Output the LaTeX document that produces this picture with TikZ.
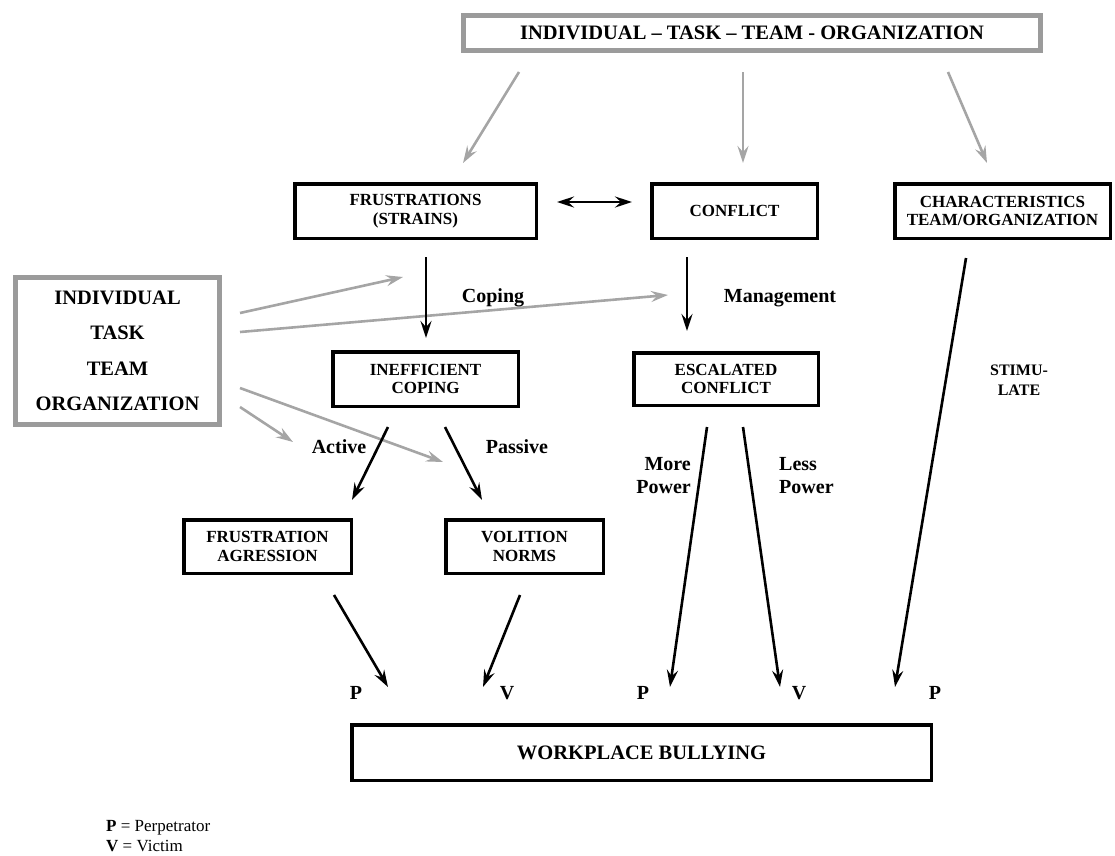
\documentclass[tikz,border=0pt]{standalone}
\usepackage{fontspec}
\setmainfont{Liberation Serif}
\usetikzlibrary{arrows.meta}
\definecolor{garrowc}{RGB}{165,165,165}
\definecolor{gboxc}{RGB}{155,155,155}
\begin{document}
\begin{tikzpicture}[x=1pt,y=-1pt,
  tipb/.tip={Stealth[length=17pt,width=11pt,inset=6pt]},
  bbox/.style={draw=black, line width=3.5pt, fill=white, inner sep=0pt, align=center,
    font=\fontsize{17}{18.5}\selectfont\bfseries},
  gbox/.style={draw=gboxc, line width=5pt, fill=white, inner sep=0pt, align=center,
    font=\fontsize{20.5}{24}\selectfont\bfseries},
  barrow/.style={draw=black, line width=2.6pt, -tipb},
  garrow/.style={draw=garrowc, line width=2.6pt, -tipb},
  lab/.style={inner sep=0pt, font=\fontsize{20}{23}\selectfont\bfseries},
  small/.style={inner sep=0pt, font=\fontsize{16}{20}\selectfont\bfseries, align=center},
  legend/.style={inner sep=0pt, anchor=west, font=\fontsize{17}{19}\selectfont}
]
\useasboundingbox (0,0) rectangle (1115,855);

% boxes
\node[gbox, minimum width=577pt, minimum height=35pt] (top) at (752,33) {INDIVIDUAL -- TASK -- TEAM - ORGANIZATION};
\node[bbox, minimum width=241.5pt, minimum height=54.5pt] (frus) at (415.5,211) {FRUSTRATIONS\\(STRAINS)};
\node[bbox, minimum width=165.5pt, minimum height=54.5pt] (conf) at (734.5,211) {CONFLICT};
\node[bbox, minimum width=215.5pt, minimum height=54.5pt] (char) at (1002.5,211) {CHARACTERISTICS\\TEAM/ORGANIZATION};
\node[gbox, minimum width=204pt, minimum height=147pt, font=\fontsize{20.5}{35.5}\selectfont\bfseries] (left) at (117.5,351) {INDIVIDUAL\\TASK\\TEAM\\ORGANIZATION};
\node[bbox, minimum width=185.5pt, minimum height=54.5pt] (ineff) at (425.5,379) {INEFFICIENT\\COPING};
\node[bbox, minimum width=184.5pt, minimum height=52.5pt] (esc) at (726,379) {ESCALATED\\CONFLICT};
\node[bbox, minimum width=167.5pt, minimum height=53.5pt] (fa) at (267.5,546.5) {FRUSTRATION\\AGRESSION};
\node[bbox, minimum width=157.5pt, minimum height=53.5pt] (vn) at (524.5,546.5) {VOLITION\\NORMS};
\node[bbox, minimum width=579.5pt, minimum height=55.5pt, font=\fontsize{20.5}{24}\selectfont\bfseries] (wb) at (641.5,752.5) {WORKPLACE BULLYING};

% P / V labels
\node[lab] (p1) at (356,693) {P};
\node[lab] (v1) at (507,693) {V};
\node[lab] (p2) at (643,693) {P};
\node[lab] (v2) at (799,693) {V};
\node[lab] (p3) at (935,693) {P};

% arrow end points
\coordinate (g1s) at (519,72);  \coordinate (g1e) at (463,163);
\coordinate (g2s) at (743,72);  \coordinate (g2e) at (743,163);
\coordinate (g3s) at (948,72);  \coordinate (g3e) at (987,163);
\coordinate (g4s) at (240,313); \coordinate (g4e) at (403,277);
\coordinate (g5s) at (240,332); \coordinate (g5e) at (668,295);
\coordinate (g6s) at (240,388); \coordinate (g6e) at (443,462);
\coordinate (g7s) at (240,407); \coordinate (g7e) at (293,442);

\coordinate (d1) at (557,202); \coordinate (d2) at (632,202);
\coordinate (b1s) at (426,257); \coordinate (b1e) at (426,338);
\coordinate (b2s) at (687,257); \coordinate (b2e) at (687,331);
\coordinate (b3s) at (388,427); \coordinate (b3e) at (352,500);
\coordinate (b4s) at (445,427); \coordinate (b4e) at (482,500);
\coordinate (b5s) at (334,595); \coordinate (b5e) at (388,687);
\coordinate (b6s) at (520,595); \coordinate (b6e) at (483,687);
\coordinate (b7s) at (707,427); \coordinate (b7e) at (670,687);
\coordinate (b8s) at (743,427); \coordinate (b8e) at (780,687);
\coordinate (b9s) at (966,258); \coordinate (b9e) at (895,687);

% gray arrows
\draw[garrow] (g1s) -- (g1e);
\draw[garrow] (g2s) -- (g2e);
\draw[garrow] (g3s) -- (g3e);
\draw[garrow] (g4s) -- (g4e);
\draw[garrow] (g5s) -- (g5e);
\draw[garrow] (g6s) -- (g6e);
\draw[garrow] (g7s) -- (g7e);

% black arrows
\draw[barrow, tipb-tipb] (d1) -- (d2);
\draw[barrow] (b1s) -- (b1e);
\draw[barrow] (b2s) -- (b2e);
\draw[barrow] (b3s) -- (b3e);
\draw[barrow] (b4s) -- (b4e);
\draw[barrow] (b5s) -- (b5e);
\draw[barrow] (b6s) -- (b6e);
\draw[barrow] (b7s) -- (b7e);
\draw[barrow] (b8s) -- (b8e);
\draw[barrow] (b9s) -- (b9e);

% labels
\node[lab] (coping) at (493,298) {Coping};
\node[lab] (mgmt) at (780,298) {Management};
\node[lab] (active) at (339,447) {Active};
\node[lab] (passive) at (517,447) {Passive};
\node[lab, align=right, anchor=east] (more) at (691,476) {More\\Power};
\node[lab, align=left, anchor=west] (less) at (779,476) {Less\\Power};
\node[small] (stim) at (1019,380) {STIMU-\\LATE};

% legend
\node[legend] (leg1) at (106,828) {\textbf{P} = Perpetrator};
\node[legend] (leg2) at (106,846) {\textbf{V} = Victim};
\end{tikzpicture}
\end{document}
